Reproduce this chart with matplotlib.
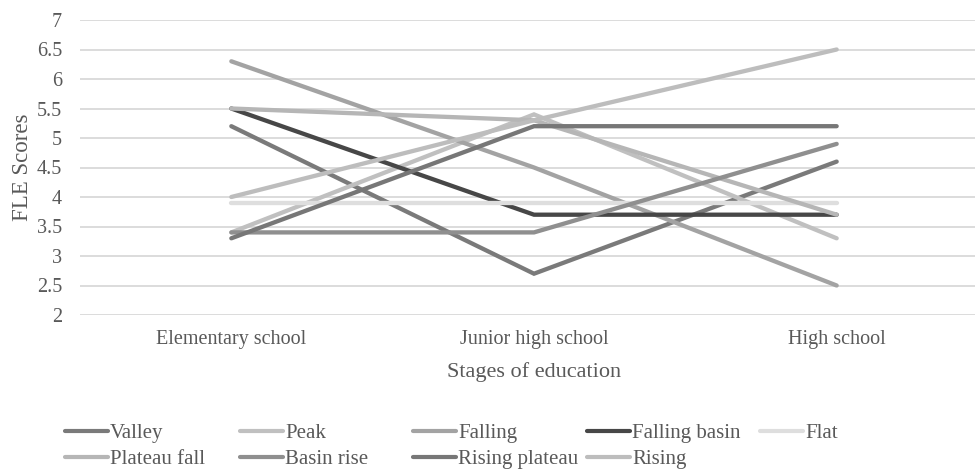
import matplotlib
matplotlib.use("Agg")
import matplotlib.pyplot as plt
from matplotlib.lines import Line2D

plt.rcParams['font.family'] = ['Liberation Serif', 'DejaVu Serif']

stages = ["Elementary school", "Junior high school", "High school"]

valley = [5.2, 2.7, 4.6]
peak = [3.4, 5.4, 3.3]
falling = [6.3, 4.5, 2.5]
falling_basin = [5.5, 3.7, 3.7]
flat = [3.9, 3.9, 3.9]
plateau_fall = [5.5, 5.3, 3.7]
basin_rise = [3.4, 3.4, 4.9]
rising_plateau = [3.3, 5.2, 5.2]
rising = [4.0, 5.3, 6.5]

names = ["Valley", "Peak", "Falling", "Falling basin", "Flat",
         "Plateau fall", "Basin rise", "Rising plateau", "Rising"]
series = [valley, peak, falling, falling_basin, flat,
          plateau_fall, basin_rise, rising_plateau, rising]
colors = ["#7a7a7a", "#c0c0c0", "#a3a3a3", "#474747", "#dedede",
          "#b6b6b6", "#8f8f8f", "#777777", "#bdbdbd"]

txt = "#595959"

fig = plt.figure(figsize=(9.75, 4.75), dpi=100)
# plot area runs a little past the right edge of the canvas
ax = fig.add_axes([80 / 975, 1 - 315 / 475, 908 / 975, 295 / 475])

x = range(len(stages))
for name, vals, c in zip(names, series, colors):
    ax.plot(x, vals, color=c, lw=3.1, solid_capstyle='round',
            solid_joinstyle='miter', label=name)

ax.set_xlim(-0.5, 2.5)
ax.set_ylim(2, 7)
ax.set_yticks([2 + 0.5 * i for i in range(11)])
ax.set_yticklabels([f"{2 + 0.5 * i:g}" for i in range(11)])
ax.set_xticks(list(x))
ax.set_xticklabels(stages)
ax.grid(axis='y', color='#d9d9d9', lw=1.3)
ax.set_axisbelow(True)
for s in ax.spines.values():
    s.set_visible(False)
ax.tick_params(length=0, labelsize=14.5, colors=txt, pad=11)
ax.tick_params(axis='y', pad=13)
ax.set_xlabel("Stages of education", fontsize=16, color=txt, labelpad=9)
ax.set_ylabel("FLE Scores", fontsize=16.5, color=txt, labelpad=3)

# legend laid out on a fixed grid, five entries per row
col_x = [65, 240, 413, 587, 760]
row_y = [431, 457]
for i, (name, c) in enumerate(zip(names, colors)):
    r, k = divmod(i, 5)
    x0 = col_x[k] / 975
    y0 = 1 - row_y[r] / 475
    fig.add_artist(Line2D([x0, x0 + 43 / 975], [y0, y0], color=c, lw=3,
                          solid_capstyle='round', transform=fig.transFigure))
    fig.text(x0 + 45 / 975, y0, name, fontsize=15, color=txt,
             va='center_baseline', ha='left')

fig.savefig("out.png", dpi=100)
